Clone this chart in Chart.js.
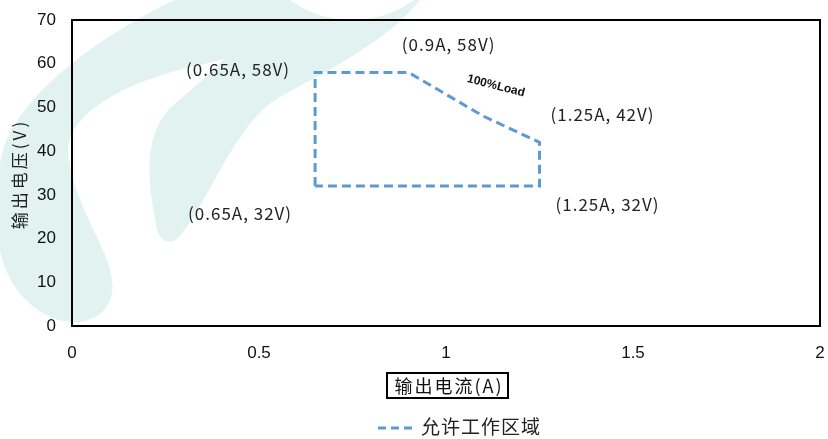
<!DOCTYPE html>
<html>
<head>
<meta charset="utf-8">
<script src="https://cdn.jsdelivr.net/npm/chart.js@4"></script>
<style>
  html, body { margin: 0; padding: 0; background: #fff; }
  #wrap { width: 828px; height: 439px; }
</style>
</head>
<body>
<div id="wrap"><canvas id="chart" width="828" height="439"></canvas></div>
<script>
// 允许工作区域 outline (A, V)
const currentA = [0.65, 0.65, 0.9, 1.0, 1.1, 1.25, 1.25, 0.65];
const voltageV = [32, 58, 58, 53, 48, 42, 32, 32];
const xTicks = [0, 0.5, 1, 1.5, 2];
const yTicks = [0, 10, 20, 30, 40, 50, 60, 70];

// corner labels
const cornerA = [0.65, 0.9, 1.25, 1.25, 0.65];
const cornerV = [58, 58, 42, 32, 32];
const cornerText = ['(0.65A, 58V)', '(0.9A, 58V)', '(1.25A, 42V)', '(1.25A, 32V)', '(0.65A, 32V)'];

const lineColor = '#5b9bd5';
const cjk = '"Noto Sans CJK SC", "Noto Sans", sans-serif';
const narrow = '"Liberation Sans Narrow", "Liberation Sans", Arial, sans-serif';

// faint logo behind the plot
const watermark = {
    id: 'watermark',
    beforeDraw(chart) {
        const ctx = chart.ctx;
        ctx.save();
        ctx.fillStyle = '#fff';
        ctx.fillRect(0, 0, chart.width, chart.height);
        ctx.fillStyle = '#e2f2f1';

        // outer band
        ctx.beginPath();
        ctx.moveTo(175, 0);
        ctx.bezierCurveTo(90, 40, 0, 110, 0, 170);
        ctx.lineTo(0, 250);
        ctx.bezierCurveTo(10, 300, 50, 325, 80, 322);
        ctx.bezierCurveTo(105, 318, 115, 300, 112, 280);
        ctx.bezierCurveTo(110, 250, 70, 200, 68, 150);
        ctx.bezierCurveTo(70, 110, 130, 80, 200, 65);
        ctx.bezierCurveTo(270, 50, 300, 20, 292, 0);
        ctx.closePath();
        ctx.fill();

        // inner tail
        ctx.beginPath();
        ctx.moveTo(420, 0);
        ctx.bezierCurveTo(390, 40, 320, 75, 278, 98);
        ctx.bezierCurveTo(235, 125, 215, 190, 180, 236);
        ctx.bezierCurveTo(170, 248, 158, 240, 156, 225);
        ctx.bezierCurveTo(150, 190, 140, 140, 170, 108);
        ctx.bezierCurveTo(215, 70, 250, 40, 260, 0);
        ctx.closePath();
        ctx.fill();

        // notch at the top
        ctx.fillStyle = '#fff';
        ctx.beginPath();
        ctx.arc(352, -86, 106, 0, Math.PI * 2);
        ctx.fill();
        ctx.restore();
    }
};

// frame, titles, labels and legend
const decorations = {
    id: 'decorations',
    afterDraw(chart) {
        const ctx = chart.ctx;
        const a = chart.chartArea;
        const xs = chart.scales.x, ys = chart.scales.y;
        ctx.save();

        ctx.strokeStyle = '#000';
        ctx.lineWidth = 2;
        ctx.strokeRect(a.left, a.top, a.right - a.left, a.bottom - a.top);

        // corner labels
        const offs = [[-77, -3], [40, -28], [63, -28], [68, 18], [-75, 27]];
        ctx.fillStyle = '#222';
        ctx.font = '17px ' + cjk;
        ctx.letterSpacing = '1px';
        ctx.textAlign = 'center';
        ctx.textBaseline = 'middle';
        cornerText.forEach((t, i) => {
            const px = xs.getPixelForValue(cornerA[i]) + offs[i][0];
            const py = ys.getPixelForValue(cornerV[i]) + offs[i][1];
            ctx.fillText(t, px, py);
        });
        ctx.letterSpacing = '0px';

        // 100%Load tag
        ctx.save();
        ctx.translate(496, 86);
        ctx.rotate(0.25);
        ctx.font = 'bold 12px ' + narrow;
        ctx.fillStyle = '#111';
        ctx.fillText('100%Load', 0, 0);
        ctx.restore();

        // y title
        ctx.save();
        ctx.translate(20, 174);
        ctx.rotate(-Math.PI / 2);
        ctx.font = '17px ' + cjk;
        ctx.letterSpacing = '3px';
        ctx.fillStyle = '#222';
        ctx.fillText('输出电压(V)', 0, 0);
        ctx.restore();

        // x title in box
        ctx.font = '18px ' + cjk;
        ctx.letterSpacing = '2px';
        ctx.fillStyle = '#111';
        ctx.fillText('输出电流(A)', 449, 386);
        ctx.letterSpacing = '0px';
        ctx.lineWidth = 2;
        ctx.strokeRect(387, 373, 121, 25);

        // legend
        ctx.strokeStyle = lineColor;
        ctx.lineWidth = 3;
        ctx.setLineDash([8, 5]);
        ctx.beginPath();
        ctx.moveTo(378, 428);
        ctx.lineTo(416, 428);
        ctx.stroke();
        ctx.setLineDash([]);
        ctx.textAlign = 'left';
        ctx.font = '19px ' + cjk;
        ctx.letterSpacing = '1px';
        ctx.fillStyle = '#222';
        ctx.fillText('允许工作区域', 421, 427);

        ctx.restore();
    }
};

new Chart(document.getElementById('chart'), {
    type: 'scatter',
    data: {
        datasets: [{
            label: '允许工作区域',
            data: currentA.map((x, i) => ({ x: x, y: voltageV[i] })),
            showLine: true,
            borderColor: lineColor,
            borderWidth: 3,
            borderDash: [9, 5],
            pointRadius: 0,
            tension: 0,
            fill: false
        }]
    },
    options: {
        responsive: false,
        animation: false,
        layout: { padding: { top: 20, right: 8, left: 0, bottom: 0 } },
        plugins: {
            legend: { display: false },
            tooltip: { enabled: false }
        },
        scales: {
            x: {
                type: 'linear',
                min: 0,
                max: 2,
                afterBuildTicks: s => { s.ticks = xTicks.map(v => ({ value: v })); },
                afterFit: s => { s.height = 113; s.paddingLeft = 0; s.paddingRight = 0; },
                grid: { display: false, drawTicks: false },
                border: { display: false },
                ticks: {
                    padding: 17,
                    color: '#111',
                    font: { family: narrow, size: 17 },
                    callback: v => String(v)
                }
            },
            y: {
                min: 0,
                max: 70,
                afterBuildTicks: s => { s.ticks = yTicks.map(v => ({ value: v })); },
                afterFit: s => { s.width = 72; s.paddingTop = 0; s.paddingBottom = 0; },
                grid: { display: false, drawTicks: false },
                border: { display: false },
                ticks: {
                    padding: 16,
                    color: '#111',
                    font: { family: narrow, size: 17 }
                }
            }
        }
    },
    plugins: [watermark, decorations]
});
</script>
</body>
</html>
